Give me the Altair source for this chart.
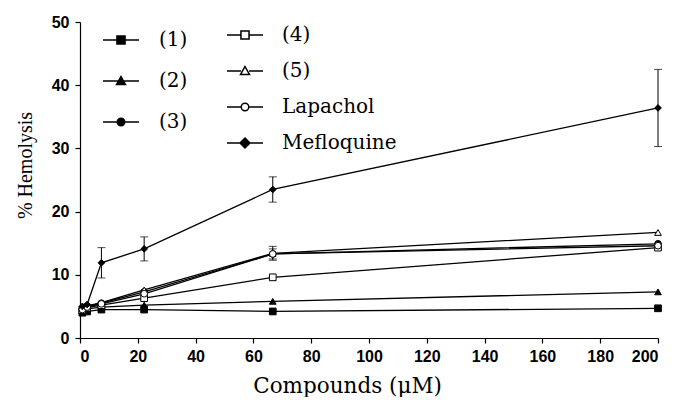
import altair as alt
import pandas as pd

conc = [0.82, 2.47, 7.41, 22.2, 66.7, 200]
series = ["(1)", "(2)", "(3)", "(4)", "(5)", "Lapachol", "Mefloquine"]
values = {
    "(1)": [4.0, 4.2, 4.5, 4.5, 4.2, 4.7],
    "(2)": [4.3, 4.6, 4.9, 5.2, 5.8, 7.3],
    "(3)": [4.6, 5.0, 5.5, 7.3, 13.3, 14.9],
    "(4)": [4.4, 4.8, 5.2, 6.3, 9.6, 14.3],
    "(5)": [4.7, 5.1, 5.6, 7.6, 13.4, 16.7],
    "Lapachol": [4.5, 4.9, 5.4, 7.0, 13.3, 14.6],
    "Mefloquine": [5.0, 5.3, 11.9, 14.1, 23.5, 36.4],
}
errors = {
    "(1)": [0, 0, 0, 0, 0, 0],
    "(2)": [0, 0, 0, 0, 0, 0],
    "(3)": [0, 0, 0, 0, 0.8, 0],
    "(4)": [0, 0, 0, 0, 0, 0],
    "(5)": [0, 0, 0, 0, 1.1, 0],
    "Lapachol": [0, 0, 0, 0, 0, 0],
    "Mefloquine": [0, 0, 2.4, 1.9, 2.0, 6.1],
}
point_shapes = ["square", "triangle-up", "circle", "square", "triangle-up", "circle", "diamond"]
point_fills = ["black", "black", "black", "white", "white", "white", "black"]

SQ = "M-0.45,-0.45H0.45V0.45H-0.45Z"
TR = "M0,-0.5L0.5,0.4H-0.5Z"
CI = "M-0.42,0A0.42,0.42 0 1,0 0.42,0A0.42,0.42 0 1,0 -0.42,0Z"
DI = "M0,-0.55L0.55,0L0,0.55L-0.55,0Z"
LF = "M-2,0H2"
LO = "M-2,0H-0.45M0.45,0H2"
legend_paths = [LF + SQ, LF + TR, LF + CI, LO + SQ, LO + TR, LO + CI, LF + DI]

rows = []
for s in series:
    for c, v, e in zip(conc, values[s], errors[s]):
        rows.append({"series": s, "conc": c, "val": v, "lo": v - e, "hi": v + e, "err": e})
df = pd.DataFrame(rows)
df["g1"] = df["series"]
df["g2"] = df["series"]

xs = alt.X("conc:Q", scale=alt.Scale(domain=[0, 200], nice=False),
           axis=alt.Axis(values=list(range(0, 201, 20)), title="Compounds (μM)", titleX=267))
ys = alt.Y("val:Q", scale=alt.Scale(domain=[0, 50], nice=False),
           axis=alt.Axis(values=list(range(0, 51, 10)), title="% Hemolysis", titleY=143))

base = alt.Chart(df)

lines = base.mark_line(color="black", strokeWidth=1.3).encode(
    x=xs, y=ys, detail="series:N", order="conc:Q")

err_df = df[df["err"] > 0]
ebase = alt.Chart(err_df)
erule = ebase.mark_rule(color="black", strokeWidth=1).encode(
    x="conc:Q", y="lo:Q", y2="hi:Q")
ecap_lo = ebase.mark_tick(color="black", orient="horizontal", size=8, thickness=1).encode(
    x="conc:Q", y="lo:Q")
ecap_hi = ebase.mark_tick(color="black", orient="horizontal", size=8, thickness=1).encode(
    x="conc:Q", y="hi:Q")

points = base.mark_point(stroke="black", strokeWidth=1, size=45, opacity=1).encode(
    x="conc:Q", y="val:Q",
    shape=alt.Shape("series:N", scale=alt.Scale(domain=series, range=point_shapes), legend=None),
    fill=alt.Fill("series:N", scale=alt.Scale(domain=series, range=point_fills), legend=None),
)

leg_common = dict(
    orient="none", title=None, symbolSize=324, symbolStrokeColor="black",
    symbolStrokeWidth=1.5, symbolOpacity=1, labelFont="DejaVu Serif",
    labelFontSize=20, labelColor="black",
)
s1 = series[:3]
s2 = series[3:]
L1 = dict(legendX=31, legendY=8, labelOffset=28, rowPadding=21, **leg_common)
L2 = dict(legendX=155, legendY=3, labelOffset=27, rowPadding=16, **leg_common)
leg1 = alt.Chart(df[df["series"].isin(s1)]).mark_point(
    opacity=0, strokeWidth=1.5, filled=False).encode(
    x="conc:Q", y="val:Q",
    shape=alt.Shape("g1:N", scale=alt.Scale(domain=s1, range=legend_paths[:3]), legend=alt.Legend(**L1)),
    fill=alt.Fill("g1:N", scale=alt.Scale(domain=s1, range=point_fills[:3]), legend=alt.Legend(**L1)),
    stroke=alt.Stroke("g1:N", scale=alt.Scale(domain=s1, range=["black"] * 3), legend=alt.Legend(**L1)),
)
leg2 = alt.Chart(df[df["series"].isin(s2)]).mark_point(
    opacity=0, strokeWidth=1.5, filled=False).encode(
    x="conc:Q", y="val:Q",
    shape=alt.Shape("g2:N", scale=alt.Scale(domain=s2, range=legend_paths[3:]), legend=alt.Legend(**L2)),
    fill=alt.Fill("g2:N", scale=alt.Scale(domain=s2, range=point_fills[3:]), legend=alt.Legend(**L2)),
    stroke=alt.Stroke("g2:N", scale=alt.Scale(domain=s2, range=["black"] * 4), legend=alt.Legend(**L2)),
)

chart = alt.layer(lines, erule, ecap_lo, ecap_hi, points, leg1, leg2).resolve_scale(
    shape="independent", fill="independent", stroke="independent"
).properties(
    width=578, height=316, padding={"top": 6, "left": 7, "right": 0, "bottom": 0}
).configure_view(stroke=None).configure_axis(
    domainColor="black", tickColor="black", grid=False, tickSize=5,
    labelFont="Liberation Sans", labelFontWeight="bold", labelFontSize=16, labelColor="black",
    titleFontWeight="normal", titleColor="black",
    domainWidth=1.2, tickWidth=1.2,
).configure_axisX(titleFont="DejaVu Serif", titleFontSize=21.5, titlePadding=11, labelPadding=5).configure_axisY(
    titleFont="Liberation Serif", titleFontSize=20, titlePadding=16, labelPadding=6, titleColor="black")

chart.save("out.html", embed_options={"renderer": "svg", "actions": False})
